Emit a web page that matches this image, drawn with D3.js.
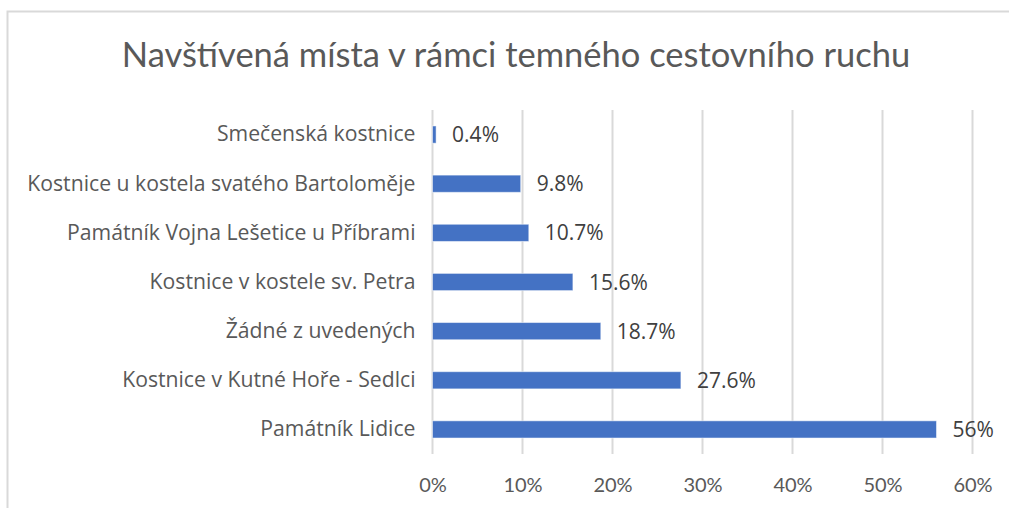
<!DOCTYPE html>
<html>
<head>
<meta charset="utf-8">
<script src="https://cdn.jsdelivr.net/npm/d3@7"></script>
<style>
  body { margin: 0; background: #fff; }
  text { font-family: Lato, "Open Sans", sans-serif; }
</style>
</head>
<body>
<div id="chart"></div>
<script>
// chart data, top to bottom
const categories = [
    "Smečenská kostnice",
    "Kostnice u kostela svatého Bartoloměje",
    "Památník Vojna Lešetice u Příbrami",
    "Kostnice v kostele sv. Petra",
    "Žádné z uvedených",
    "Kostnice v Kutné Hoře - Sedlci",
    "Památník Lidice"
]
const values = [0.4, 9.8, 10.7, 15.6, 18.7, 27.6, 56]
const value_labels = ["0.4%", "9.8%", "10.7%", "15.6%", "18.7%", "27.6%", "56%"]
const ticks = [0, 10, 20, 30, 40, 50, 60]
const title = "Navštívená místa v rámci temného cestovního ruchu"

const width = 1009
const height = 508
const plot = { left: 432.5, right: 972.5, top: 110, bottom: 454 }

var svg = d3.select("#chart")
    .append("svg")
    .attr("width", width)
    .attr("height", height)

// chart frame (only top & left edges are visible)
svg.append("path")
    .attr("d", "M7.5,508 V11.5 H1009")
    .attr("fill", "none")
    .attr("stroke", "#d9d9d9")
    .attr("stroke-width", 2)

svg.append("text")
    .attr("x", 516)
    .attr("y", 67)
    .attr("text-anchor", "middle")
    .style("font-size", "34.5px")
    .style("fill", "#595959")
    .text(title)

var x = d3.scaleLinear()
    .domain([0, 60])
    .range([plot.left, plot.right])

var y = d3.scaleBand()
    .domain(categories)
    .range([plot.top, plot.bottom])
    .paddingInner(0.65)
    .paddingOuter(0.325)

// vertical gridlines
svg.append("g")
    .selectAll("line")
    .data(ticks)
    .enter()
    .append("line")
    .attr("x1", d => x(d))
    .attr("x2", d => x(d))
    .attr("y1", plot.top)
    .attr("y2", plot.bottom)
    .attr("stroke", "#d9d9d9")
    .attr("stroke-width", 2)

// x tick labels
var xAxis = svg.append("g")
    .attr("transform", "translate(0," + plot.bottom + ")")
    .call(d3.axisBottom(x).tickValues(ticks).tickFormat(d => d + "%").tickSize(0).tickPadding(24))
xAxis.select(".domain").remove()
xAxis.selectAll("text")
    .style("font-size", "20px")
    .style("fill", "#595959")
    .style("font-family", "Lato, sans-serif")

// category labels
var yAxis = svg.append("g")
    .attr("transform", "translate(" + plot.left + ",0)")
    .call(d3.axisLeft(y).tickSize(0).tickPadding(17))
yAxis.select(".domain").remove()
yAxis.selectAll("text")
    .style("font-size", "21.2px")
    .style("fill", "#595959")
    .style("font-family", "'Open Sans', sans-serif")

// bars
svg.append("g")
    .selectAll("rect")
    .data(values)
    .enter()
    .append("rect")
    .attr("x", x(0))
    .attr("y", (d, i) => y(categories[i]))
    .attr("width", d => x(d) - x(0))
    .attr("height", y.bandwidth())
    .attr("fill", "#4472c4")
    .attr("stroke", "#ffffff")
    .attr("stroke-opacity", 0.5)
    .attr("stroke-width", 1)

// value labels
svg.append("g")
    .selectAll("text")
    .data(values)
    .enter()
    .append("text")
    .attr("x", d => x(d) + 16)
    .attr("y", (d, i) => y(categories[i]) + y.bandwidth() / 2)
    .attr("dy", "0.36em")
    .style("font-size", "21px")
    .style("font-family", "'Open Sans', sans-serif")
    .style("fill", "#404040")
    .text((d, i) => value_labels[i])
</script>
</body>
</html>
